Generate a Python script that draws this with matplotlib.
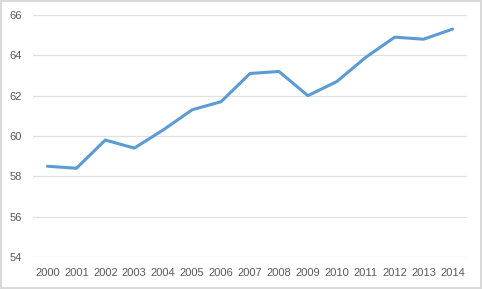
import matplotlib
matplotlib.use("Agg")
import matplotlib.pyplot as plt

years = ["2000", "2001", "2002", "2003", "2004", "2005", "2006", "2007",
         "2008", "2009", "2010", "2011", "2012", "2013", "2014"]
values = [58.5, 58.4, 59.8, 59.4, 60.3, 61.3, 61.7, 63.1,
          63.2, 62.0, 62.7, 63.9, 64.9, 64.8, 65.3]
yticks = [54, 56, 58, 60, 62, 64, 66]

plt.rcParams['font.family'] = ['Liberation Sans', 'DejaVu Sans']

fig = plt.figure(figsize=(4.82, 2.89), dpi=100)
fig.patch.set_facecolor('white')
fig.patch.set_edgecolor('#D9D9D9')
fig.patch.set_linewidth(1.5)

ax = fig.add_axes([33/482, 1-257/289, (467-33)/482, (257-15)/289])
x = list(range(len(years)))
ax.plot(x, values, color='#5B9BD5', linewidth=2.2, solid_capstyle='round', zorder=3)

ax.set_xlim(-0.5, len(years) - 0.5)
ax.set_ylim(54, 66)
ax.set_yticks(yticks)
ax.set_yticklabels([str(v) for v in yticks])
ax.set_xticks(x)
ax.set_xticklabels(years)
ax.grid(axis='y', color='#E0E0E0', linewidth=0.9)
ax.set_axisbelow(True)
for s in ax.spines.values():
    s.set_visible(False)
ax.tick_params(axis='both', length=0, labelsize=8, labelcolor='#595959')
ax.tick_params(axis='y', pad=8)
ax.tick_params(axis='x', pad=8)

fig.savefig('out.png', dpi=100)
